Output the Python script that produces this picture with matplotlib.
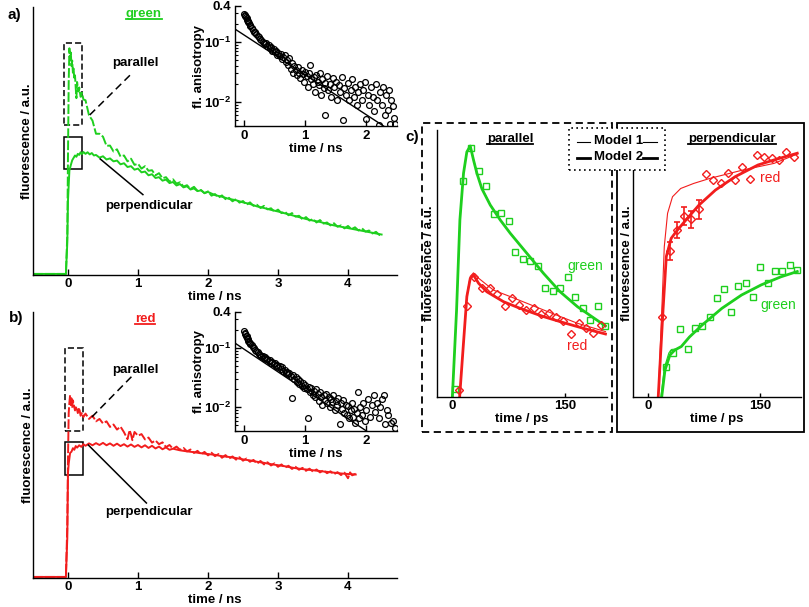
import numpy as np
import matplotlib
matplotlib.use("Agg")
import matplotlib.pyplot as plt
from matplotlib.lines import Line2D
from matplotlib.patches import Rectangle
from matplotlib.ticker import FixedLocator, FixedFormatter, LogLocator, NullFormatter

plt.rcParams['font.family'] = ['Liberation Sans', 'DejaVu Sans']
plt.rcParams['font.weight'] = 'bold'
plt.rcParams['font.size'] = 9.5
plt.rcParams['axes.labelweight'] = 'bold'
plt.rcParams['axes.linewidth'] = 1.0
plt.rcParams['mathtext.fontset'] = 'custom'
plt.rcParams['mathtext.rm'] = 'Liberation Sans:bold'
plt.rcParams['mathtext.bf'] = 'Liberation Sans:bold'
plt.rcParams['mathtext.default'] = 'bf'

GREEN = '#1ecf1e'
RED = '#f21d1d'
W, H = 809, 607

# ---- panel a: green, fluorescence traces (time ns, a.u.)
green_par = [(-0.5, 0.004), (-0.03, 0.004), (-0.01, 0.15), (0.0, 0.45), (0.01, 0.72), (0.02, 0.846),
             (0.03, 0.80), (0.04, 0.83), (0.05, 0.78), (0.06, 0.80), (0.07, 0.755), (0.08, 0.77),
             (0.09, 0.73), (0.10, 0.745), (0.11, 0.70), (0.12, 0.66), (0.13, 0.72), (0.14, 0.70),
             (0.15, 0.685), (0.16, 0.70), (0.18, 0.665), (0.20, 0.68), (0.22, 0.655),
             (0.25, 0.652), (0.30, 0.596), (0.35, 0.576), (0.40, 0.527), (0.45, 0.527), (0.50, 0.516),
             (0.55, 0.482), (0.60, 0.483), (0.65, 0.461), (0.70, 0.469), (0.75, 0.442), (0.80, 0.446),
             (0.85, 0.424), (0.90, 0.434), (0.95, 0.411), (1.00, 0.415), (1.05, 0.397), (1.10, 0.406),
             (1.15, 0.389), (1.20, 0.391), (1.25, 0.372), (1.30, 0.380), (1.35, 0.361), (1.40, 0.365),
             (1.45, 0.349), (1.50, 0.357), (1.55, 0.341), (1.60, 0.346), (1.65, 0.330), (1.70, 0.335),
             (1.75, 0.321), (1.80, 0.329), (1.85, 0.314), (1.90, 0.317), (1.95, 0.305), (2.00, 0.312),
             (2.05, 0.296), (2.10, 0.302), (2.15, 0.289), (2.20, 0.297), (2.25, 0.283), (2.30, 0.288),
             (2.35, 0.275), (2.40, 0.283), (2.45, 0.270), (2.50, 0.276), (2.55, 0.262), (2.60, 0.271),
             (2.65, 0.258), (2.70, 0.262), (2.75, 0.250), (2.80, 0.258), (2.85, 0.245), (2.90, 0.249),
             (2.95, 0.236), (3.00, 0.244), (3.05, 0.231), (3.10, 0.236), (3.15, 0.223), (3.20, 0.231),
             (3.25, 0.218), (3.30, 0.221), (3.35, 0.208), (3.40, 0.216), (3.45, 0.203), (3.50, 0.209),
             (3.55, 0.196), (3.60, 0.205), (3.65, 0.192), (3.70, 0.196), (3.75, 0.185), (3.80, 0.193),
             (3.85, 0.180), (3.90, 0.185), (3.95, 0.174), (4.00, 0.183), (4.05, 0.171), (4.10, 0.178),
             (4.15, 0.166), (4.20, 0.174), (4.25, 0.162), (4.30, 0.166), (4.35, 0.155), (4.40, 0.161),
             (4.45, 0.149), (4.48, 0.152)]
green_perp = [(-0.5, 0.004), (-0.03, 0.004), (-0.01, 0.12), (0.00, 0.28), (0.02, 0.39), (0.04, 0.41),
              (0.06, 0.428), (0.08, 0.437), (0.10, 0.446), (0.12, 0.441), (0.14, 0.452), (0.16, 0.448),
              (0.18, 0.458), (0.20, 0.451), (0.22, 0.459), (0.25, 0.452), (0.28, 0.458), (0.31, 0.450),
              (0.34, 0.455), (0.37, 0.446), (0.40, 0.448), (0.45, 0.438), (0.50, 0.443), (0.55, 0.431),
              (0.60, 0.435), (0.65, 0.424), (0.70, 0.427), (0.75, 0.413), (0.80, 0.417), (0.85, 0.403),
              (0.90, 0.406), (0.95, 0.393), (1.00, 0.397), (1.05, 0.383), (1.10, 0.386), (1.15, 0.372),
              (1.20, 0.376), (1.25, 0.362), (1.30, 0.365), (1.35, 0.352), (1.40, 0.356), (1.45, 0.343),
              (1.50, 0.347), (1.55, 0.334), (1.60, 0.339), (1.65, 0.327), (1.70, 0.331), (1.75, 0.319),
              (1.80, 0.323), (1.85, 0.313), (1.90, 0.316), (1.95, 0.306), (2.00, 0.310), (2.10, 0.298),
              (2.20, 0.292), (2.30, 0.284), (2.40, 0.279), (2.50, 0.271), (2.60, 0.265), (2.70, 0.256),
              (2.80, 0.250), (2.90, 0.243), (3.00, 0.237), (3.10, 0.230), (3.20, 0.223), (3.30, 0.216),
              (3.40, 0.209), (3.50, 0.203), (3.60, 0.198), (3.70, 0.191), (3.80, 0.185), (3.90, 0.180),
              (4.00, 0.175), (4.10, 0.170), (4.20, 0.165), (4.30, 0.160), (4.40, 0.155), (4.48, 0.151)]

# ---- panel b: red
red_par = [(-0.5, 0.004), (-0.03, 0.004), (-0.01, 0.2), (0.0, 0.45), (0.01, 0.62), (0.02, 0.66),
           (0.03, 0.688), (0.04, 0.65), (0.05, 0.675), (0.06, 0.64), (0.07, 0.668), (0.08, 0.655),
           (0.10, 0.63), (0.12, 0.645), (0.14, 0.62), (0.16, 0.64), (0.18, 0.61), (0.20, 0.622),
           (0.22, 0.605), (0.25, 0.618), (0.30, 0.598), (0.35, 0.610), (0.40, 0.589), (0.45, 0.598),
           (0.50, 0.581), (0.55, 0.589), (0.60, 0.568), (0.65, 0.577), (0.70, 0.558), (0.75, 0.569),
           (0.80, 0.548), (0.85, 0.522), (0.88, 0.556), (0.90, 0.540), (0.92, 0.518), (0.95, 0.549),
           (1.00, 0.535), (1.05, 0.541), (1.10, 0.521), (1.15, 0.528), (1.20, 0.509), (1.25, 0.517),
           (1.30, 0.503), (1.35, 0.510), (1.40, 0.492), (1.45, 0.500), (1.50, 0.486), (1.55, 0.494),
           (1.60, 0.482), (1.65, 0.489), (1.70, 0.476), (1.75, 0.483), (1.80, 0.470), (1.85, 0.478),
           (1.90, 0.465), (1.95, 0.474), (2.00, 0.461), (2.05, 0.471), (2.10, 0.458), (2.15, 0.466),
           (2.20, 0.452), (2.25, 0.462), (2.30, 0.449), (2.35, 0.457), (2.40, 0.445), (2.45, 0.454),
           (2.50, 0.441), (2.55, 0.449), (2.60, 0.437), (2.65, 0.444), (2.70, 0.430), (2.75, 0.440),
           (2.80, 0.427), (2.85, 0.435), (2.90, 0.423), (2.95, 0.431), (3.00, 0.418), (3.05, 0.427),
           (3.10, 0.415), (3.15, 0.422), (3.20, 0.410), (3.25, 0.418), (3.30, 0.407), (3.35, 0.414),
           (3.40, 0.403), (3.45, 0.411), (3.50, 0.400), (3.55, 0.408), (3.60, 0.397), (3.65, 0.405),
           (3.70, 0.394), (3.75, 0.401), (3.80, 0.390), (3.85, 0.398), (3.90, 0.387), (3.95, 0.396),
           (4.00, 0.375), (4.03, 0.397), (4.06, 0.386), (4.11, 0.392)]
red_perp = [(-0.5, 0.004), (-0.03, 0.004), (-0.01, 0.15), (0.0, 0.395), (0.01, 0.43), (0.02, 0.45),
            (0.03, 0.47), (0.05, 0.475), (0.07, 0.488), (0.09, 0.482), (0.11, 0.496), (0.13, 0.49),
            (0.16, 0.499), (0.19, 0.493), (0.22, 0.503), (0.25, 0.497), (0.30, 0.506), (0.35, 0.499),
            (0.40, 0.507), (0.45, 0.500), (0.50, 0.508), (0.55, 0.499), (0.60, 0.506), (0.65, 0.497),
            (0.70, 0.505), (0.75, 0.496), (0.80, 0.503), (0.85, 0.494), (0.90, 0.502), (0.95, 0.493),
            (1.00, 0.500), (1.05, 0.491), (1.10, 0.499), (1.15, 0.489), (1.20, 0.497), (1.25, 0.487),
            (1.30, 0.494), (1.35, 0.484), (1.40, 0.491), (1.45, 0.482), (1.5, 0.486), (1.6, 0.480),
            (1.7, 0.476), (1.8, 0.473), (1.9, 0.469), (2.0, 0.466), (2.1, 0.463), (2.2, 0.458),
            (2.3, 0.455), (2.4, 0.451), (2.5, 0.446), (2.6, 0.442), (2.7, 0.437), (2.8, 0.433),
            (2.9, 0.428), (3.0, 0.424), (3.1, 0.420), (3.2, 0.415), (3.3, 0.411), (3.4, 0.408),
            (3.5, 0.405), (3.6, 0.402), (3.7, 0.399), (3.8, 0.396), (3.9, 0.393), (4.0, 0.391),
            (4.11, 0.389)]

# ---- insets: fluorescence anisotropy (time ns, r)
aniso_green = [(0.00, 0.29), (0.01, 0.285), (0.02, 0.27), (0.03, 0.26), (0.04, 0.25), (0.05, 0.235),
               (0.06, 0.225), (0.07, 0.215), (0.08, 0.205), (0.09, 0.195), (0.10, 0.185), (0.12, 0.17),
               (0.14, 0.16), (0.16, 0.15), (0.18, 0.145), (0.20, 0.135), (0.22, 0.125), (0.24, 0.12),
               (0.26, 0.113), (0.28, 0.108), (0.30, 0.10), (0.32, 0.097), (0.34, 0.092), (0.36, 0.095),
               (0.38, 0.085), (0.40, 0.088), (0.42, 0.08), (0.44, 0.082), (0.46, 0.072), (0.48, 0.076),
               (0.50, 0.068), (0.52, 0.071), (0.54, 0.062), (0.56, 0.066), (0.58, 0.058), (0.60, 0.063),
               (0.62, 0.052), (0.64, 0.056), (0.66, 0.061), (0.68, 0.046), (0.70, 0.05), (0.72, 0.042),
               (0.74, 0.055), (0.76, 0.036), (0.78, 0.045), (0.80, 0.03), (0.82, 0.04), (0.84, 0.034),
               (0.86, 0.028), (0.88, 0.038), (0.90, 0.031), (0.92, 0.025), (0.94, 0.034), (0.96, 0.029),
               (0.98, 0.022), (1.00, 0.032), (1.02, 0.027), (1.04, 0.018), (1.06, 0.03), (1.08, 0.041),
               (1.10, 0.024), (1.12, 0.02), (1.14, 0.026), (1.16, 0.015), (1.18, 0.028), (1.20, 0.022),
               (1.22, 0.019), (1.24, 0.03), (1.26, 0.013), (1.28, 0.024), (1.30, 0.017), (1.32, 0.021),
               (1.33, 0.006), (1.35, 0.027), (1.37, 0.016), (1.40, 0.02), (1.42, 0.012), (1.45, 0.025),
               (1.47, 0.018), (1.50, 0.022), (1.52, 0.011), (1.55, 0.019), (1.57, 0.015), (1.60, 0.026),
               (1.62, 0.005), (1.64, 0.017), (1.67, 0.013), (1.70, 0.021), (1.72, 0.011), (1.75, 0.016),
               (1.77, 0.024), (1.80, 0.012), (1.82, 0.018), (1.85, 0.009), (1.87, 0.015), (1.90, 0.02),
               (1.92, 0.011), (1.95, 0.016), (1.97, 0.022), (2.00, 0.0053), (2.02, 0.013), (2.05, 0.009),
               (2.07, 0.018), (2.10, 0.012), (2.12, 0.007), (2.15, 0.02), (2.17, 0.011), (2.20, 0.0041),
               (2.22, 0.015), (2.25, 0.009), (2.27, 0.018), (2.30, 0.006), (2.32, 0.013), (2.35, 0.0075),
               (2.37, 0.016), (2.39, 0.0044), (2.41, 0.011), (2.43, 0.0085), (2.45, 0.0055), (2.47, 0.0043)]
aniso_red = [(0.00, 0.19), (0.01, 0.18), (0.02, 0.17), (0.03, 0.16), (0.04, 0.155), (0.05, 0.145),
             (0.06, 0.14), (0.07, 0.13), (0.08, 0.125), (0.09, 0.12), (0.10, 0.115), (0.12, 0.11),
             (0.14, 0.105), (0.16, 0.098), (0.18, 0.092), (0.20, 0.088), (0.22, 0.084), (0.24, 0.08),
             (0.26, 0.077), (0.28, 0.074), (0.30, 0.072), (0.32, 0.068), (0.34, 0.07), (0.36, 0.064),
             (0.38, 0.066), (0.40, 0.06), (0.42, 0.062), (0.44, 0.056), (0.46, 0.058), (0.48, 0.053),
             (0.50, 0.055), (0.52, 0.05), (0.54, 0.052), (0.56, 0.047), (0.58, 0.049), (0.60, 0.044),
             (0.62, 0.047), (0.64, 0.041), (0.66, 0.043), (0.68, 0.038), (0.70, 0.04), (0.72, 0.036),
             (0.74, 0.038), (0.76, 0.033), (0.78, 0.0145), (0.80, 0.035), (0.82, 0.03), (0.84, 0.032),
             (0.86, 0.027), (0.88, 0.03), (0.90, 0.025), (0.92, 0.028), (0.94, 0.023), (0.96, 0.026),
             (0.98, 0.021), (1.00, 0.024), (1.02, 0.02), (1.05, 0.0067), (1.06, 0.022), (1.08, 0.018),
             (1.10, 0.021), (1.12, 0.016), (1.14, 0.019), (1.16, 0.015), (1.18, 0.02), (1.20, 0.017),
             (1.22, 0.013), (1.24, 0.018), (1.26, 0.015), (1.28, 0.011), (1.30, 0.016), (1.32, 0.0135),
             (1.34, 0.017), (1.36, 0.012), (1.38, 0.015), (1.40, 0.01), (1.42, 0.014), (1.44, 0.0125),
             (1.46, 0.016), (1.48, 0.009), (1.50, 0.013), (1.52, 0.011), (1.54, 0.0145), (1.56, 0.0052),
             (1.58, 0.012), (1.60, 0.0095), (1.62, 0.0135), (1.64, 0.008), (1.66, 0.011), (1.68, 0.0075),
             (1.70, 0.0105), (1.72, 0.0065), (1.74, 0.009), (1.76, 0.012), (1.78, 0.007), (1.80, 0.0095),
             (1.82, 0.0055), (1.84, 0.008), (1.86, 0.018), (1.88, 0.0065), (1.90, 0.01), (1.92, 0.0075),
             (1.95, 0.012), (1.97, 0.006), (2.00, 0.009), (2.03, 0.014), (2.06, 0.007), (2.09, 0.011),
             (2.12, 0.016), (2.14, 0.0085), (2.17, 0.012), (2.20, 0.0065), (2.22, 0.01), (2.25, 0.014),
             (2.28, 0.016), (2.30, 0.0052), (2.33, 0.009), (2.36, 0.0075), (2.40, 0.0055), (2.43, 0.006),
             (2.47, 0.0045)]
fit_green = [(-0.15, 0.165), (2.28, 0.004)]
fit_red = [(-0.15, 0.12), (2.0, 0.004)]

# ---- panel c: early time (ps, a.u.)
c_par_green_pts = [(4, 0.03), (15, 0.81), (25, 0.934), (35, 0.846), (45, 0.79), (55, 0.684), (64.6, 0.688),
                   (74.8, 0.66), (83.7, 0.544), (93.9, 0.517), (103.6, 0.509), (113.3, 0.49), (123.5, 0.407),
                   (133.2, 0.398), (143.4, 0.409), (153, 0.448), (163, 0.373), (173, 0.333), (183, 0.288),
                   (193, 0.342), (203, 0.266)]
c_par_red_pts = [(9.3, 0.026), (19.5, 0.341), (29.6, 0.448), (39.4, 0.407), (49.6, 0.41), (59.3, 0.385),
                 (69.5, 0.341), (79.2, 0.37), (89, 0.345), (98.3, 0.326), (108, 0.334), (118, 0.311),
                 (127.9, 0.313), (137.6, 0.298), (147, 0.285), (157.6, 0.235), (167.8, 0.276), (176.6, 0.257),
                 (186.4, 0.241), (196.6, 0.27)]
c_par_green_m1 = [(0, -0.02), (5.9, 0.32), (10.3, 0.66), (15.1, 0.838), (19.5, 0.918), (24, 0.942), (28.3, 0.89),
                  (32.8, 0.84), (39.4, 0.782), (50.5, 0.72), (63.7, 0.664), (77, 0.614), (99, 0.538),
                  (121, 0.463), (143, 0.394), (166, 0.338), (188, 0.295), (203, 0.266)]
c_par_green_m2 = [(0, -0.02), (5.9, 0.326), (10.3, 0.663), (15.1, 0.838), (19.5, 0.918), (24, 0.94), (28.3, 0.888),
                  (32.8, 0.838), (39.4, 0.78), (50.5, 0.719), (63.7, 0.663), (77, 0.613), (99, 0.538),
                  (121, 0.463), (143, 0.394), (166, 0.338), (188, 0.295), (203, 0.266)]
c_par_red_m1 = [(9.7, -0.01), (15, 0.2), (19.5, 0.38), (24, 0.452), (28.3, 0.465), (35, 0.445), (46, 0.42),
                (55, 0.40), (77, 0.376), (121, 0.326), (166, 0.276), (203, 0.245)]
c_par_red_m2 = [(9.7, -0.01), (15, 0.2), (19.5, 0.376), (24, 0.444), (28.3, 0.457), (35, 0.426), (46, 0.394),
                (68, 0.357), (90, 0.332), (121, 0.301), (148, 0.278), (174, 0.257), (203, 0.236)]

c_perp_red_pts = [(18.9, 0.298), (29, 0.547), (38.6, 0.625), (47.8, 0.678), (58.3, 0.665), (68.4, 0.703),
                  (78, 0.835), (87.3, 0.813), (97.8, 0.80), (107, 0.838), (116.7, 0.813), (126.3, 0.863),
                  (136.4, 0.815), (146, 0.906), (156, 0.90), (165.8, 0.896), (176, 0.888), (185.5, 0.919),
                  (195.6, 0.90)]
c_perp_red_err = [(29, 0.547, 0.034), (38.6, 0.625, 0.031), (47.8, 0.678, 0.034), (58.3, 0.665, 0.031),
                  (68.4, 0.703, 0.036)]
c_perp_green_pts = [(24.6, 0.111), (34.2, 0.166), (43.4, 0.255), (53, 0.18), (62.7, 0.257), (72.8, 0.266),
                    (82.5, 0.298), (92.5, 0.37), (102, 0.403), (111.4, 0.32), (121, 0.417), (131.2, 0.428),
                    (141, 0.376), (150.4, 0.486), (160.5, 0.428), (170.2, 0.473), (180, 0.473), (189.9, 0.494),
                    (200, 0.476)]
c_perp_red_m1 = [(13.6, -0.01), (17.5, 0.25), (21.9, 0.563), (26.3, 0.688), (32.9, 0.75), (43.9, 0.781),
                 (61.4, 0.80), (83.3, 0.819), (127, 0.85), (169, 0.875), (200, 0.91)]
c_perp_red_m2 = [(13.6, -0.01), (20.2, 0.325), (24.6, 0.526), (31.1, 0.594), (37.7, 0.619), (50.9, 0.663),
                 (68.4, 0.719), (90.4, 0.775), (116.7, 0.825), (147.4, 0.869), (169, 0.888), (200, 0.913)]
c_perp_green_m1 = [(17, -0.01), (22, 0.11), (28, 0.165), (31.6, 0.178), (38, 0.18), (45, 0.19), (55.7, 0.225),
                   (72.8, 0.27), (99, 0.332), (125.4, 0.382), (151.8, 0.42), (178, 0.45), (200, 0.47)]
c_perp_green_m2 = [(18, -0.01), (22.8, 0.1), (29.4, 0.157), (36, 0.176), (44.7, 0.189), (55.7, 0.225),
                   (72.8, 0.27), (99, 0.332), (125.4, 0.382), (151.8, 0.42), (178, 0.45), (200, 0.47)]


def xy(pairs):
    a = np.array(pairs, dtype=float)
    return a[:, 0], a[:, 1]


def rect(l, t, r, b):
    return [l / W, 1 - b / H, (r - l) / W, (b - t) / H]


def plain_axes(ax):
    ax.set_facecolor('none')
    for s in ['top', 'right']:
        ax.spines[s].set_visible(False)
    ax.set_yticks([])
    ax.tick_params(axis='x', direction='in', length=4, width=1, pad=2.5)


def main_panel(ax, par, perp, color, name, boxes, leaders, labels):
    plain_axes(ax)
    t, v = xy(perp)
    ax.plot(t, v, color=color, lw=1.4, solid_joinstyle='round')
    t, v = xy(par)
    ax.plot(t, v, color=color, lw=1.4, dashes=(5, 1.2))
    ax.set_xlim(-0.5, 4.7)
    ax.set_ylim(0, 1)
    ax.set_xticks([0, 1, 2, 3, 4])
    ax.set_xlabel('time / ns', labelpad=0.5)
    ax.set_ylabel('fluorescence / a.u.', va='center')
    ax.yaxis.set_label_coords(-0.016, 0.5)
    (dx, dy, dw, dh), (sx, sy, sw, sh) = boxes
    ax.add_patch(Rectangle((dx, dy), dw, dh, fill=False, ec='black', lw=1.1, ls=(0, (4, 2))))
    ax.add_patch(Rectangle((sx, sy), sw, sh, fill=False, ec='black', lw=1.1))
    (p0, p1), (q0, q1) = leaders
    ax.plot([p0[0], p1[0]], [p0[1], p1[1]], color='black', lw=1.1, dashes=(5, 3))
    ax.plot([q0[0], q1[0]], [q0[1], q1[1]], color='black', lw=1.1)
    ax.text(*labels[0], 'parallel', ha='center', va='center')
    ax.text(*labels[1], 'perpendicular', ha='center', va='center')
    return ax.text(*labels[2], name, color=color, ha='center', va='center')


def inset_panel(ax, pts, fit):
    ax.set_facecolor('none')
    for s in ['top', 'right']:
        ax.spines[s].set_visible(False)
    ax.set_yscale('log')
    t, r = xy(pts)
    ax.plot(t, r, 'o', mfc='none', mec='black', ms=4.2, mew=0.9)
    t, r = xy(fit)
    ax.plot(t, r, color='black', lw=1.0)
    ax.set_xlim(-0.15, 2.5)
    ax.set_ylim(0.004, 0.4)
    ax.set_xticks([0, 1, 2])
    ax.yaxis.set_major_locator(FixedLocator([0.01, 0.1, 0.4]))
    ax.yaxis.set_major_formatter(FixedFormatter([r'$10^{-2}$', r'$10^{-1}$', '0.4']))
    ax.yaxis.set_minor_locator(LogLocator(base=10, subs=np.arange(2, 10)))
    ax.yaxis.set_minor_formatter(NullFormatter())
    ax.tick_params(axis='both', which='major', direction='in', length=4, width=1, pad=3)
    ax.tick_params(axis='y', which='minor', direction='in', length=2, width=0.8)
    ax.set_xlabel('time / ns', labelpad=0.5)
    ax.set_ylabel('fl. anisotropy', labelpad=-1)


def c_panel(ax, title, tx):
    plain_axes(ax)
    ax.set_xlim(-20, 205)
    ax.set_ylim(0, 1)
    ax.set_xticks([0, 150])
    ax.tick_params(axis='x', length=3)
    ax.set_xlabel('time / ps', labelpad=0.5)
    ax.set_ylabel('fluorescence / a.u.', va='center')
    return ax.text(tx, 0.966, title, transform=ax.transAxes, ha='center', va='center')


fig = plt.figure(figsize=(W / 100, H / 100), dpi=100)

ax_a = fig.add_axes(rect(33, 7, 397, 275))
t_green = main_panel(ax_a, green_par, green_perp, GREEN, 'green',
                     [(-0.053, 0.56, 0.257, 0.305), (-0.053, 0.394, 0.257, 0.122)],
                     [((0.31, 0.597), (0.93, 0.757)), ((0.46, 0.433), (1.07, 0.30))],
                     [(0.96, 0.79), (1.15, 0.257), (1.08, 0.975)])
ax_b = fig.add_axes(rect(33, 312, 397, 578))
t_red = main_panel(ax_b, red_par, red_perp, RED, 'red',
                   [(-0.043, 0.553, 0.253, 0.311), (-0.043, 0.387, 0.253, 0.123)],
                   [((0.34, 0.605), (0.93, 0.763)), ((0.29, 0.50), (1.12, 0.282))],
                   [(0.96, 0.782), (1.15, 0.248), (1.1, 0.975)])
ax_b.yaxis.set_label_coords(-0.014, 0.5)

ax_ia = fig.add_axes(rect(235, 6, 397, 126))
inset_panel(ax_ia, aniso_green, fit_green)
ax_ib = fig.add_axes(rect(235, 312, 397, 431))
inset_panel(ax_ib, aniso_red, fit_red)

ax_cl = fig.add_axes(rect(437, 130, 607, 397))
t_par = c_panel(ax_cl, 'parallel', 0.43)
ax_cl.yaxis.set_label_coords(-0.047, 0.5)
x, y = xy(c_par_green_m1)
ax_cl.plot(x, y, color=GREEN, lw=0.8)
x, y = xy(c_par_green_m2)
ax_cl.plot(x, y, color=GREEN, lw=2.0)
x, y = xy(c_par_red_m1)
ax_cl.plot(x, y, color=RED, lw=0.8)
x, y = xy(c_par_red_m2)
ax_cl.plot(x, y, color=RED, lw=2.0)
x, y = xy(c_par_green_pts)
ax_cl.plot(x, y, 's', mfc='none', mec=GREEN, ms=4, mew=1.0, clip_on=False)
x, y = xy(c_par_red_pts)
ax_cl.plot(x, y, 'D', mfc='none', mec=RED, ms=3.6, mew=1.0, clip_on=False)
ax_cl.text(176.6, 0.49, 'green', color=GREEN, fontweight='normal', ha='center', va='center', fontsize=10)
ax_cl.text(166, 0.19, 'red', color=RED, fontweight='normal', ha='center', va='center', fontsize=10)

ax_cr = fig.add_axes(rect(633, 130, 801, 397))
t_perp = c_panel(ax_cr, 'perpendicular', 0.59)
ax_cr.yaxis.set_label_coords(-0.036, 0.5)
x, y = xy(c_perp_red_m1)
ax_cr.plot(x, y, color=RED, lw=0.8)
x, y = xy(c_perp_red_m2)
ax_cr.plot(x, y, color=RED, lw=2.0)
x, y = xy(c_perp_green_m1)
ax_cr.plot(x, y, color=GREEN, lw=0.8)
x, y = xy(c_perp_green_m2)
ax_cr.plot(x, y, color=GREEN, lw=2.0)
e = np.array(c_perp_red_err)
ax_cr.errorbar(e[:, 0], e[:, 1], yerr=e[:, 2], fmt='none', ecolor=RED, elinewidth=1.2, capsize=2.5, capthick=1.2)
x, y = xy(c_perp_red_pts)
ax_cr.plot(x, y, 'D', mfc='none', mec=RED, ms=3.6, mew=1.0, clip_on=False)
x, y = xy(c_perp_green_pts)
ax_cr.plot(x, y, 's', mfc='none', mec=GREEN, ms=4, mew=1.0, clip_on=False)
ax_cr.text(164, 0.819, 'red', color=RED, fontweight='normal', ha='center', va='center', fontsize=10)
ax_cr.text(174.6, 0.345, 'green', color=GREEN, fontweight='normal', ha='center', va='center', fontsize=10)

# frames around panel c
fig.add_artist(Rectangle((422 / W, 1 - 432 / H), 190 / W, 309 / H, transform=fig.transFigure,
                         fill=False, ec='black', lw=1.3, ls=(0, (4, 2.5))))
fig.add_artist(Rectangle((617 / W, 1 - 432 / H), 187 / W, 309 / H, transform=fig.transFigure,
                         fill=False, ec='black', lw=1.3))

# legend box
fig.add_artist(Rectangle((569 / W, 1 - 170 / H), 96 / W, 42 / H, transform=fig.transFigure,
                         fc='white', ec='black', lw=1.2, ls=(0, (1, 2)), zorder=5))
for yy, lw, name in [(141.5, 0.8, 'Model 1'), (157.5, 2.0, 'Model 2')]:
    for x0, x1 in [(577, 590), (643, 657)]:
        fig.add_artist(Line2D([x0 / W, x1 / W], [1 - yy / H, 1 - yy / H], transform=fig.transFigure,
                              color='black', lw=lw, zorder=6))
    fig.text(618.5 / W, 1 - yy / H, name, ha='center', va='center', zorder=6)

fig.text(7 / W, 1 - 15 / H, 'a)', fontsize=11, va='center', ha='left')
fig.text(9 / W, 1 - 318 / H, 'b)', fontsize=11, va='center', ha='left')
fig.text(405 / W, 1 - 137 / H, 'c)', fontsize=11, va='center', ha='left')

# underline titles
fig.canvas.draw()
renderer = fig.canvas.get_renderer()
for txt, col in [(t_green, GREEN), (t_red, RED), (t_par, 'black'), (t_perp, 'black')]:
    bb = txt.get_window_extent(renderer)
    yb = (bb.y0 + 1) / H
    fig.add_artist(Line2D([bb.x0 / W, bb.x1 / W], [yb, yb], transform=fig.transFigure, color=col, lw=1.3))

fig.savefig('out.png', dpi=100)
